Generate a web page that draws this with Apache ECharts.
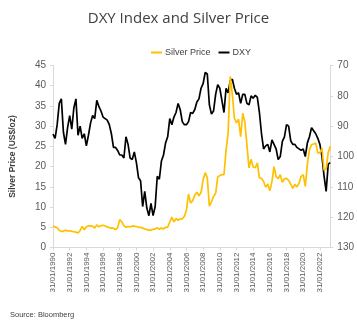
<!DOCTYPE html>
<html>
<head>
<meta charset="utf-8">
<script src="https://cdn.jsdelivr.net/npm/echarts@6/dist/echarts.min.js"></script>
<style>
  html, body { margin: 0; padding: 0; background: #fff; }
  #chart { width: 357px; height: 324px; }
</style>
</head>
<body>
<div id="chart"></div>
<script>
// Quarterly observations (month-end of Jan, Apr, Jul, Oct), Jan 1990 – Apr 2023
const startYear = 1990;
const quarterEnds = ['31/01/', '30/04/', '31/07/', '31/10/'];

// Silver price, US$/oz
const silverPrice = [
  5.3, 5.1, 4.9, 4.2,    4.0, 4.0, 4.3, 4.1,    4.1, 4.0, 3.9, 3.8,    3.6, 4.2, 5.2, 4.4,
  5.1, 5.4, 5.3, 5.3,    4.8, 5.6, 5.1, 5.4,    5.5, 5.3, 5.1, 4.9,    4.8, 4.8, 4.4, 4.9,
  6.9, 6.3, 5.4, 5.0,    5.2, 5.1, 5.3, 5.3,    5.2, 5.0, 5.0, 4.8,    4.6, 4.4, 4.3, 4.3,
  4.5, 4.6, 4.9, 4.5,    4.8, 4.6, 5.0, 5.0,    6.3, 7.5, 6.3, 7.2,    6.7, 7.1, 7.1, 7.7,
  9.3, 13.2, 11.0, 11.6, 12.9, 13.7, 12.8, 13.6, 16.7, 18.5, 17.2, 10.2, 11.3, 12.6, 13.4, 17.4,
  17.8, 18.0, 18.0, 24.0, 28.4, 42.3, 37.9, 32.0, 30.8, 31.7, 27.4, 33.2, 31.1, 25.4, 19.7, 21.8,
  19.9, 19.7, 20.9, 17.2, 17.1, 16.3, 14.9, 15.7, 14.0, 16.3, 20.0, 17.6, 17.0, 18.0, 16.1, 17.0,
  17.1, 16.6, 15.7, 14.6, 15.6, 15.0, 15.9, 17.6, 18.0, 15.1, 20.6, 24.2, 25.4, 25.6, 25.8, 23.4,
  23.4, 24.6, 19.1, 19.4, 23.5, 25.0
];

// US Dollar Index (DXY)
const dxyIndex = [
  92.6, 94.0, 89.5, 82.5,     81.0, 92.0, 96.0, 90.5,     86.5, 91.0, 84.0, 81.0,     93.0, 90.0, 94.0, 92.5,
  96.5, 93.0, 89.0, 86.5,     87.5, 81.5, 83.5, 85.0,     87.0, 87.5, 88.0, 89.5,     92.5, 97.0, 97.0, 98.0,
  99.5, 99.5, 100.5, 93.5,    96.0, 100.5, 101.0, 98.5,   102.0, 107.0, 108.0, 116.5, 111.5, 117.0, 119.5, 115.5,
  119.5, 116.5, 106.5, 107.5, 101.5, 99.5, 95.5, 93.5,    87.5, 89.5, 87.0, 85.5,     82.5, 84.5, 88.5, 89.5,
  89.5, 88.5, 85.5, 85.8,     84.5, 82.0, 81.0, 77.5,     76.0, 72.3, 72.8, 83.0,     86.0, 85.0, 79.5, 76.3,
  77.5, 81.5, 85.5, 77.5,     79.0, 75.0, 74.5, 77.5,     79.5, 79.0, 82.5, 79.5,     79.5, 82.5, 83.0, 80.0,
  80.8, 79.8, 80.5, 85.5,     92.5, 97.5, 96.5, 96.0,     98.5, 94.5, 96.0, 97.5,     101.0, 100.0, 95.0, 93.5,
  89.5, 90.0, 94.8, 96.0,     96.0, 97.0, 97.5, 98.0,     97.5, 100.0, 95.5, 93.5,    90.5, 91.5, 92.5, 94.0,
  96.0, 100.0, 106.5, 111.5,  102.5, 102.0
];

// Date labels for each observation
const dateLabels = silverPrice.map((_, i) =>
  quarterEnds[i % 4] + (startYear + Math.floor(i / 4)));

const axisGrey = '#d9d9d9';
const textGrey = '#595959';
const baseFont = 'Liberation Sans, Arial, sans-serif';

const chart = echarts.init(document.getElementById('chart'), null, { renderer: 'canvas' });

chart.setOption({
  animation: false,
  backgroundColor: '#fff',
  title: {
    text: 'DXY Index and Silver Price',
    left: 'center',
    top: 6,
    textStyle: { fontFamily: 'Open Sans, sans-serif', fontWeight: 'normal', fontSize: 15, color: '#404040' }
  },
  legend: {
    top: 43,
    left: 146,
    itemGap: 8,
    itemWidth: 11,
    itemHeight: 2,
    icon: 'rect',
    textStyle: { fontFamily: baseFont, fontSize: 9, color: '#404040', padding: [0, 0, 0, -2] },
    data: ['Silver Price', 'DXY']
  },
  grid: { left: 52.5, right: 26, top: 65.5, bottom: 76.5, containLabel: false },
  xAxis: {
    type: 'category',
    data: dateLabels,
    boundaryGap: false,
    axisLine: { lineStyle: { color: axisGrey, width: 1 } },
    axisTick: { show: true, interval: 7, length: 3, lineStyle: { color: axisGrey } },
    axisLabel: { interval: 7, rotate: 90, fontSize: 8, color: textGrey, fontFamily: baseFont, margin: 5 }
  },
  yAxis: [
    {
      type: 'value',
      min: 0, max: 45, interval: 5,
      name: 'Silver Price (US$/oz)',
      nameLocation: 'middle',
      nameGap: 36,
      nameRotate: 90,
      nameTextStyle: { fontFamily: baseFont, fontSize: 8.5, fontWeight: 'bold', color: '#404040' },
      axisLine: { show: true, lineStyle: { color: axisGrey } },
      axisTick: { show: true, length: 3, lineStyle: { color: axisGrey } },
      splitLine: { show: false },
      axisLabel: { fontSize: 10, color: textGrey, fontFamily: baseFont, margin: 7 }
    },
    {
      type: 'value',
      min: 70, max: 130, interval: 10,
      inverse: true,
      position: 'right',
      axisLine: { show: true, lineStyle: { color: axisGrey } },
      axisTick: { show: true, length: 3, lineStyle: { color: axisGrey } },
      splitLine: { show: false },
      axisLabel: { fontSize: 10, color: textGrey, fontFamily: baseFont, margin: 7 }
    }
  ],
  series: [
    {
      name: 'Silver Price',
      type: 'line',
      yAxisIndex: 0,
      data: silverPrice,
      showSymbol: false,
      z: 3,
      color: '#ffc000',
      lineStyle: { width: 1.7, color: '#ffc000' }
    },
    {
      name: 'DXY',
      type: 'line',
      yAxisIndex: 1,
      data: dxyIndex,
      showSymbol: false,
      z: 2,
      color: '#000000',
      lineStyle: { width: 1.7, color: '#000000' }
    }
  ],
  graphic: [
    {
      type: 'text',
      left: 10,
      top: 311,
      style: { text: 'Source: Bloomberg', fontSize: 7.5, fontFamily: baseFont, fill: '#404040' }
    }
  ]
});
</script>
</body>
</html>
